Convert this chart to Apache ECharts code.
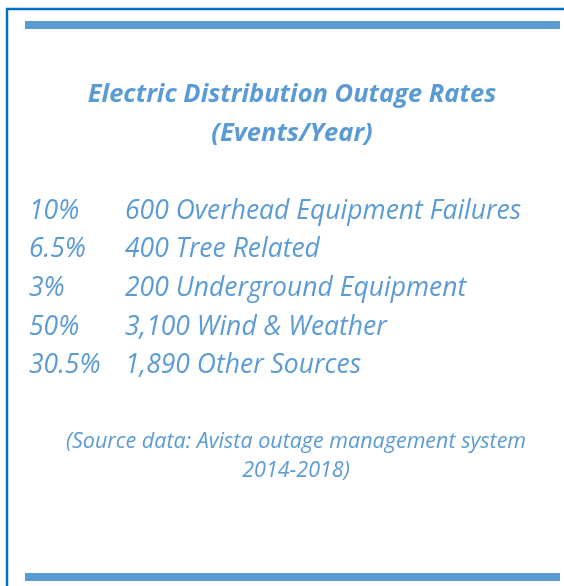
<!DOCTYPE html>
<html><head><meta charset="utf-8">
<script src="https://cdn.jsdelivr.net/npm/echarts@6/dist/echarts.min.js"></script>
<style>html,body{margin:0;padding:0;background:#fff}#c{width:564px;height:586px}</style>
</head><body><div id="c"></div>
<script>
const titleLines = ['Electric Distribution Outage Rates', '(Events/Year)'];
const percents = ['10%', '6.5%', '3%', '50%', '30.5%'];
const counts = ['600', '400', '200', '3,100', '1,890'];
const causes = ['Overhead Equipment Failures', 'Tree Related', 'Underground Equipment', 'Wind & Weather', 'Other Sources'];
const sourceLines = ['(Source data: Avista outage management system', '2014-2018)'];

const FONT = '"Open Sans"';
const COLOR = '#5B9BD5';
const chart = echarts.init(document.getElementById('c'), null, {renderer: 'canvas'});
const g = [];
// frame
g.push({type:'rect', shape:{x:7, y:9, width:600, height:600}, style:{fill:'none', stroke:'#0070C0', lineWidth:2.5}});
g.push({type:'rect', shape:{x:25, y:21, width:535, height:8}, style:{fill:COLOR}});
g.push({type:'rect', shape:{x:25, y:573, width:535, height:8}, style:{fill:COLOR}});
titleLines.forEach((t, i) => g.push({type:'text', x:292, y:95 + i*39, style:{text:t, fill:COLOR, font:'italic bold 25.5px ' + FONT, align:'center', verticalAlign:'middle'}}));
percents.forEach((p, i) => {
  const y = 211 + i*38.7;
  g.push({type:'text', x:29, y:y, style:{text:p, fill:COLOR, font:'italic 26.5px ' + FONT, align:'left', verticalAlign:'middle'}});
  g.push({type:'text', x:125, y:y, style:{text:counts[i] + ' ' + causes[i], fill:COLOR, font:'italic 26.5px ' + FONT, align:'left', verticalAlign:'middle'}});
});
sourceLines.forEach((t, i) => g.push({type:'text', x:296, y:442 + i*29, style:{text:t, fill:COLOR, font:'italic 21.5px ' + FONT, align:'center', verticalAlign:'middle'}}));
chart.setOption({animation:false, graphic:{elements:g}});
</script></body></html>
